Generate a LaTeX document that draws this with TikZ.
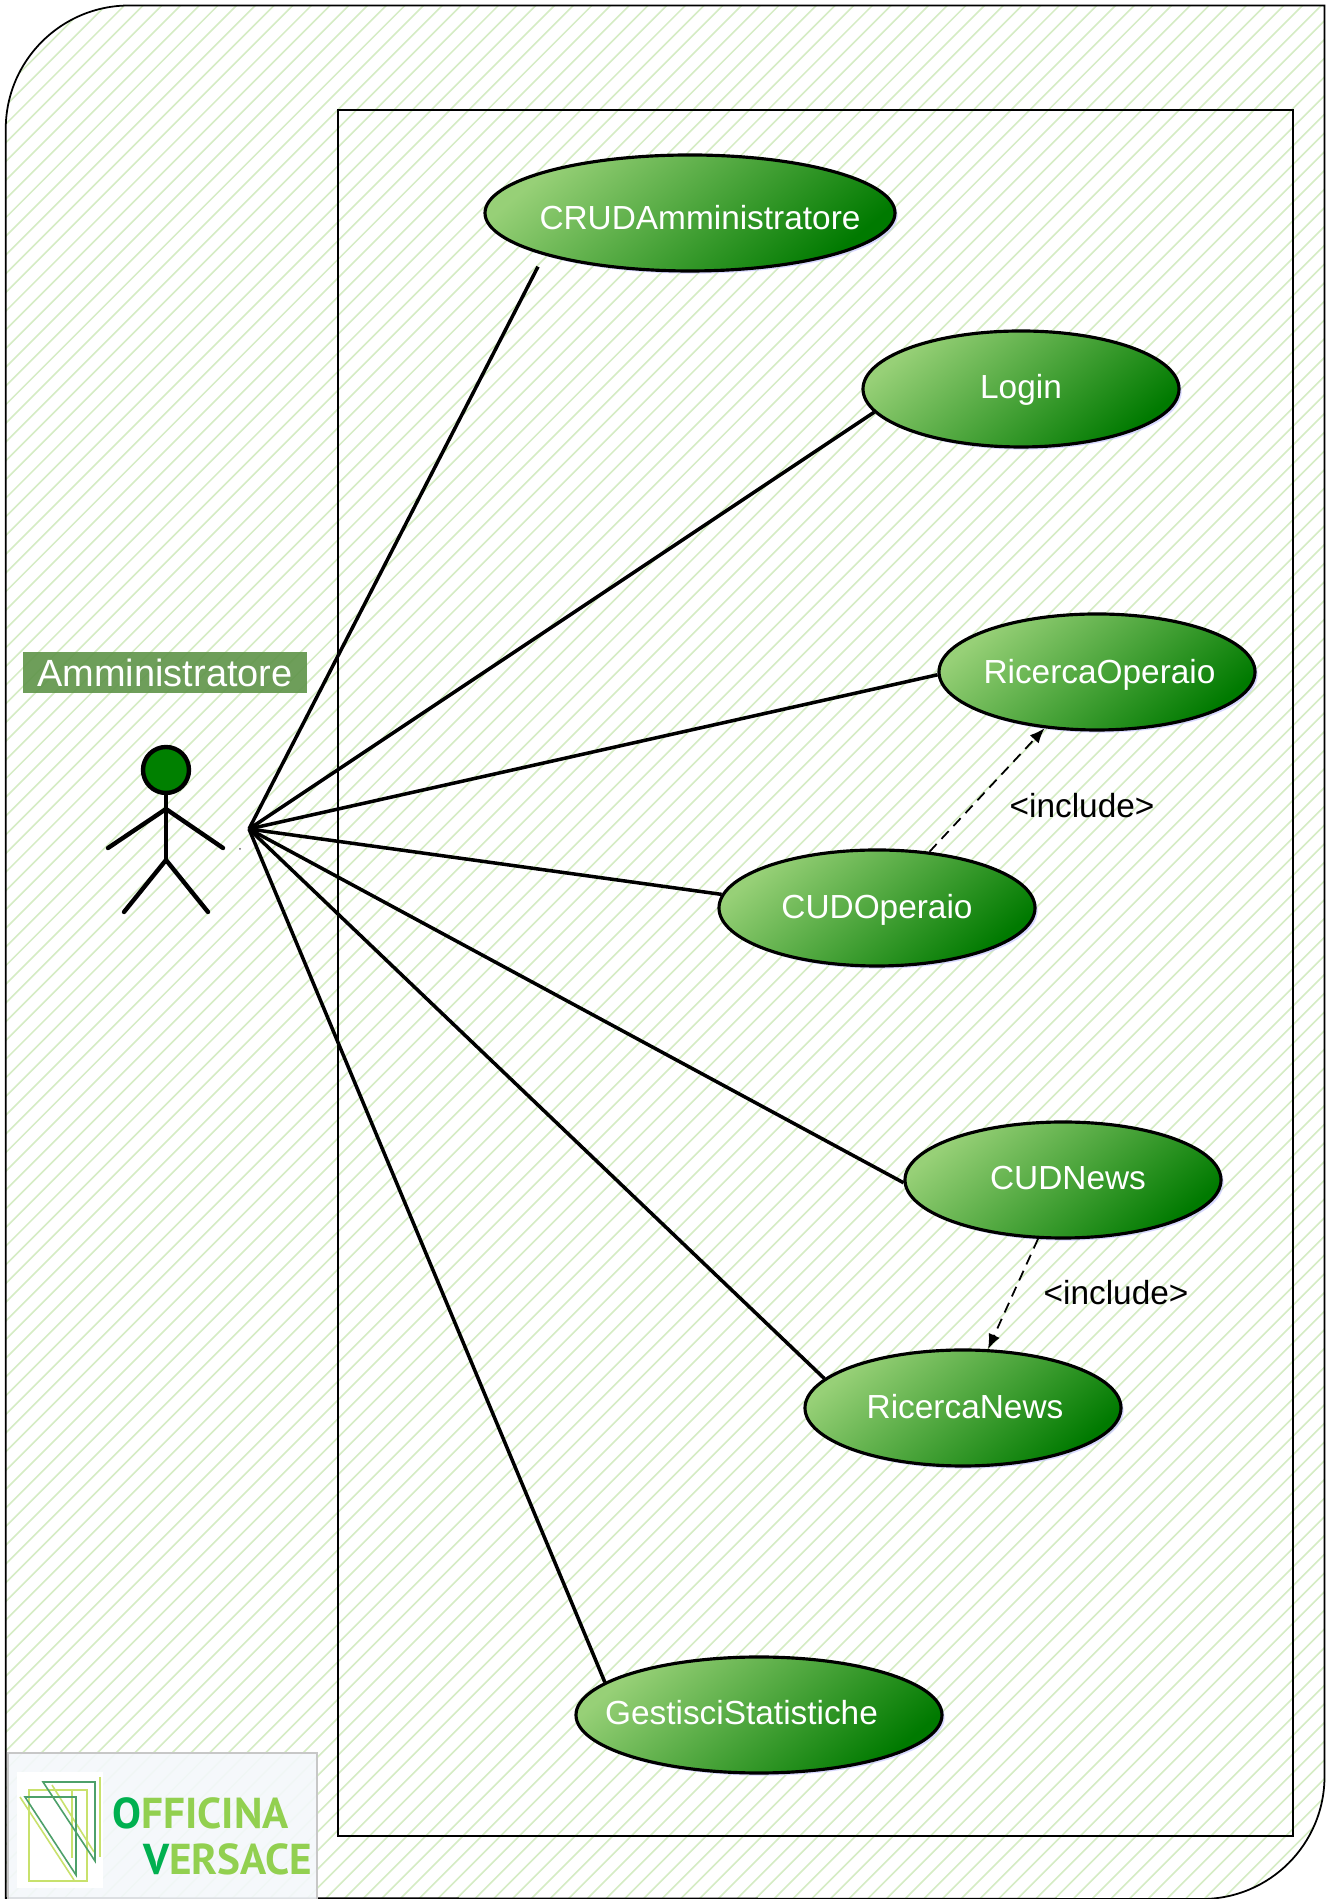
\documentclass[tikz,border=0pt]{standalone}
\usepackage{fontspec}
\setmainfont{Liberation Sans}
\newfontfamily\logofont{PT Sans}
\usetikzlibrary{arrows.meta,shapes.geometric,shadows}

\definecolor{hatchgreen}{HTML}{D5ECC4}
\definecolor{usecaselight}{HTML}{97D077}
\definecolor{usecasedark}{HTML}{007A00}
\definecolor{actorgreen}{HTML}{008000}
\definecolor{labelgreen}{HTML}{5F9449}
\definecolor{logopanel}{HTML}{F4F8FB}
\definecolor{logodark}{HTML}{00B050}
\definecolor{logolight}{HTML}{92D050}
\definecolor{logoteal}{HTML}{4DA06A}
\definecolor{logoyellow}{HTML}{C8E16C}

\def\framepath{(0.115cm,0.02cm) -- (0.115cm,35.4cm) arc[start angle=180,end angle=90,radius=2.47cm] -- (26.49cm,37.87cm) -- (26.49cm,2.45cm) arc[start angle=0,end angle=-90,radius=2.45cm] -- cycle}
% text of a use case: shift right, shift down, name
\newcommand{\ucname}[3]{\smash{\makebox[0pt]{\hspace{#1}\raisebox{#2}{#3}}}}

\tikzset{
	usecase/.style={ellipse, draw=black, line width=1.8pt, minimum width=6.32cm, minimum height=2.32cm,
		inner sep=0pt, left color=usecaselight, right color=usecasedark, shading angle=40,
		text=white, font=\fontsize{19pt}{22pt}\selectfont,
		drop shadow={shadow xshift=1.5pt, shadow yshift=-1.5pt, fill=blue!25!white, opacity=0.6}},
	assoc/.style={line width=2pt},
	includearrow/.style={line width=1pt, dash pattern=on 6pt off 4pt, -{Latex[length=3mm,width=2.4mm]}},
	includelabel/.style={font=\fontsize{19pt}{22pt}\selectfont},
	actorline/.style={line width=2.5pt, line cap=round},
	logoletter/.style={font=\logofont\bfseries\fontsize{24.6pt}{28pt}\selectfont, anchor=base west, inner sep=0pt, text=logolight}
}

\begin{document}
\begin{tikzpicture}
	\useasboundingbox (0cm,0cm) rectangle (26.52cm,37.98cm);
	
	% background and system box
	\begin{scope}
		\clip \framepath;
		\fill[white] (0cm,0cm) rectangle (26.52cm,37.98cm);
		\foreach \d in {-38,-37.626,...,26.6}
			\draw[hatchgreen, line width=0.9pt] (\d cm,0cm) -- ++(38cm,38cm);
	\end{scope}
	\draw[line width=1pt] \framepath;
	\draw[line width=0.9pt] (6.76cm,1.26cm) rectangle (25.86cm,35.78cm);
	
	% actor
	\node[fill=labelgreen, fill opacity=0.9, text opacity=1, text=white, minimum width=5.68cm, minimum height=0.82cm, inner sep=0pt, font=\fontsize{21.6pt}{24pt}\selectfont] (actorlabel) at (3.3cm,24.53cm) {Amministratore};
	\node[circle, draw=black, fill=actorgreen, line width=2.5pt, minimum size=0.92cm, inner sep=0pt] (head) at (3.32cm,22.58cm) {};
	\coordinate (shoulder) at (3.32cm,21.8cm);
	\coordinate (hip) at (3.32cm,20.78cm);
	\draw[actorline] (head.south) -- (hip);
	\draw[actorline] (2.16cm,21.02cm) -- (shoulder) -- (4.46cm,21.02cm);
	\draw[actorline] (2.48cm,19.74cm) -- (hip) -- (4.16cm,19.74cm);
	\fill[black!60] (4.8cm,21cm) circle (0.02cm);
	
	% use cases
	\node[usecase, minimum width=8.2cm] (crud) at (13.8cm,33.72cm) {\ucname{0.4cm}{-0.33cm}{CRUDAmministratore}};
	\node[usecase] (login) at (20.42cm,30.2cm) {\ucname{0cm}{-0.2cm}{Login}};
	\node[usecase] (ricercaoperaio) at (21.94cm,24.54cm) {\ucname{0.1cm}{-0.24cm}{RicercaOperaio}};
	\node[usecase] (cudoperaio) at (17.54cm,19.82cm) {\ucname{0cm}{-0.22cm}{CUDOperaio}};
	\node[usecase] (cudnews) at (21.26cm,14.38cm) {\ucname{0.2cm}{-0.2cm}{CUDNews}};
	\node[usecase] (ricercanews) at (19.26cm,9.82cm) {\ucname{0.08cm}{-0.22cm}{RicercaNews}};
	\node[usecase, minimum width=7.32cm] (gestisci) at (15.18cm,3.68cm) {\ucname{-0.7cm}{-0.2cm}{GestisciStatistiche}};
	
	% associations
	\coordinate (hub) at (4.98cm,21.4cm);
	\draw[assoc, shorten >=0.26cm] (hub) -- (crud.south west);
	\draw[assoc] (hub) -- (login.189);
	\draw[assoc] (hub) -- (ricercaoperaio.181);
	\draw[assoc] (hub) -- (cudoperaio.175);
	\draw[assoc] (hub) -- (cudnews.181);
	\draw[assoc] (hub) -- (ricercanews.168);
	\draw[assoc] (hub) -- (gestisci.168);
	
	% include
	\draw[includearrow] (cudoperaio.47) -- (ricercaoperaio.227);
	\draw[includearrow] (cudnews.247) -- (ricercanews.67);
	\node[includelabel] (includeone) at (21.64cm,21.86cm) {<include>};
	\node[includelabel] (includetwo) at (22.32cm,12.12cm) {<include>};
	
	% logo
	\filldraw[fill=logopanel, fill opacity=0.9, draw=black!22, line width=0.7pt] (0.16cm,-0.1cm) rectangle (6.34cm,2.92cm);
	\fill[white] (0.34cm,0.22cm) rectangle (2.06cm,2.54cm);
	\draw[logoyellow, line width=0.9pt] (0.58cm,0.36cm) rectangle (1.74cm,2.18cm);
	\draw[logoyellow, line width=0.9pt] (0.4cm,2.04cm) -- (1.48cm,0.38cm);
	\draw[logoyellow, line width=0.9pt] (1.04cm,2.28cm) -- (1.88cm,0.94cm);
	\draw[logoyellow, line width=0.9pt] (2cm,2.44cm) -- (2cm,0.84cm);
	\draw[logoyellow, line width=0.9pt] (1.44cm,2.18cm) -- (1.44cm,0.82cm);
	\draw[logoteal, line width=0.9pt] (0.5cm,2.04cm) -- (1.52cm,2.04cm) -- (1.52cm,0.48cm) -- cycle;
	\draw[logoteal, line width=0.9pt] (0.86cm,2.34cm) -- (1.9cm,2.34cm) -- (1.9cm,0.76cm) -- cycle;
	\node[logoletter] (officina) at (2.24cm,1.41cm) {\textcolor{logodark}{O}FFICINA};
	\node[logoletter] (versace) at (2.86cm,0.5cm) {\textcolor{logodark}{V}ERSACE};
	
\end{tikzpicture}
\end{document}
